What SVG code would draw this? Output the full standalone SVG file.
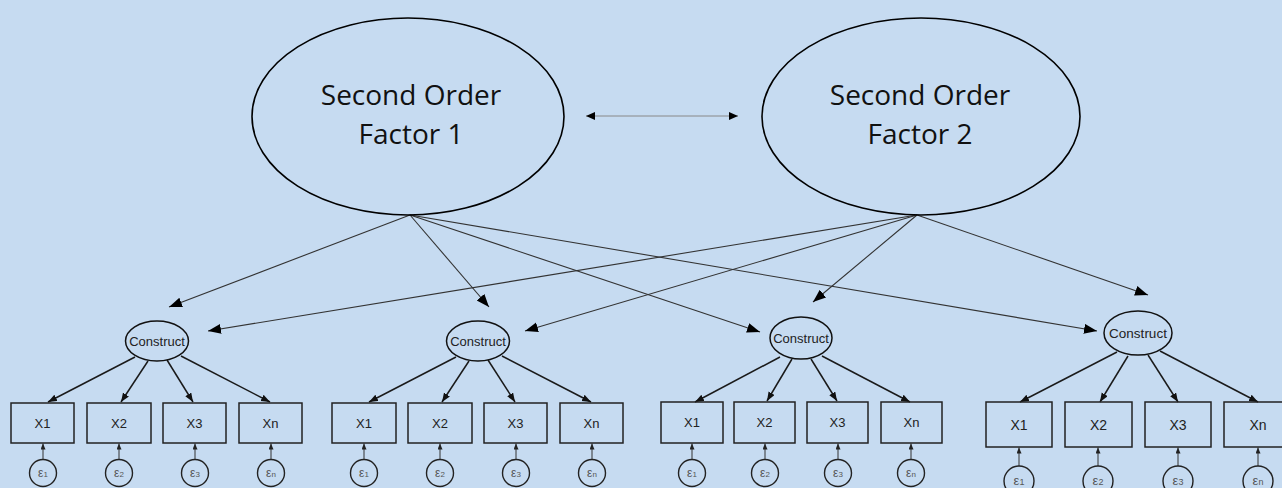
<svg xmlns="http://www.w3.org/2000/svg" width="1282" height="488" viewBox="0 0 1282 488">
  <defs>
    <style>
      .factor { fill: none; stroke: #000; stroke-width: 1.6; }
      .ftext { font-family: "Open Sans", "Liberation Sans", sans-serif; font-size: 28px; fill: #111; text-anchor: middle; }
      .construct { fill: none; stroke: #111; stroke-width: 1.5; }
      .ctext { font-family: "Liberation Sans", Arial, sans-serif; font-size: 13px; fill: #222; text-anchor: middle; }
      .box { fill: none; stroke: #222; stroke-width: 1.5; }
      .btext { font-family: "Liberation Sans", Arial, sans-serif; font-size: 13px; fill: #222; text-anchor: middle; }
      .err { fill: none; stroke: #222; stroke-width: 1.4; }
      .etext { font-family: "Liberation Sans", Arial, sans-serif; font-size: 12px; fill: #555; text-anchor: middle; }
      .path2 { stroke: #333; stroke-width: 1.1; fill: none; }
      .load { stroke: #1a1a1a; stroke-width: 1.5; fill: none; }
      .eline { stroke: #333; stroke-width: 1; fill: none; }
      .corr { stroke: #888; stroke-width: 1; fill: none; }
    </style>
    <marker id="bigHead" markerUnits="userSpaceOnUse" markerWidth="14" markerHeight="12" refX="13" refY="5" orient="auto">
      <path d="M0,0 L13,5 L0,10 Z" fill="#000"/>
    </marker>
    <marker id="midHead" markerUnits="userSpaceOnUse" markerWidth="10" markerHeight="10" refX="9" refY="3.5" orient="auto">
      <path d="M0,0 L9,3.5 L0,7 Z" fill="#111"/>
    </marker>
    <marker id="tinyHead" markerUnits="userSpaceOnUse" markerWidth="7" markerHeight="7" refX="6" refY="2.5" orient="auto">
      <path d="M0,0 L6,2.5 L0,5 Z" fill="#222"/>
    </marker>
    <marker id="corrHead" markerUnits="userSpaceOnUse" markerWidth="10" markerHeight="10" refX="9" refY="4" orient="auto-start-reverse">
      <path d="M0,0 L9,4 L0,8 Z" fill="#000"/>
    </marker>
  </defs>

  <rect x="0" y="0" width="1282" height="488" fill="#c6dbf1"/>

  <!-- connectors -->
  <g id="connectors">
    <!-- factor correlation -->
    <line class="corr" x1="586" y1="116" x2="738" y2="116" marker-start="url(#corrHead)" marker-end="url(#corrHead)"/>
    <!-- Factor 1 paths -->
    <line class="path2" x1="410" y1="215" x2="169" y2="307" marker-end="url(#bigHead)"/>
    <line class="path2" x1="410" y1="215" x2="489" y2="307" marker-end="url(#bigHead)"/>
    <line class="path2" x1="410" y1="215" x2="760" y2="332" marker-end="url(#bigHead)"/>
    <line class="path2" x1="410" y1="215" x2="1097" y2="331" marker-end="url(#bigHead)"/>
    <!-- Factor 2 paths -->
    <line class="path2" x1="917" y1="215" x2="208" y2="331" marker-end="url(#bigHead)"/>
    <line class="path2" x1="917" y1="215" x2="525" y2="331" marker-end="url(#bigHead)"/>
    <line class="path2" x1="917" y1="215" x2="813" y2="302" marker-end="url(#bigHead)"/>
    <line class="path2" x1="917" y1="215" x2="1148" y2="295" marker-end="url(#bigHead)"/>

    <!-- construct 1 loadings -->
    <line class="load" x1="135" y1="357" x2="48" y2="402" marker-end="url(#midHead)"/>
    <line class="load" x1="148" y1="361" x2="121" y2="402" marker-end="url(#midHead)"/>
    <line class="load" x1="167" y1="360" x2="193" y2="402" marker-end="url(#midHead)"/>
    <line class="load" x1="181" y1="356" x2="270" y2="402" marker-end="url(#midHead)"/>
    <!-- construct 2 loadings -->
    <line class="load" x1="456" y1="357" x2="369" y2="402" marker-end="url(#midHead)"/>
    <line class="load" x1="469" y1="361" x2="442" y2="402" marker-end="url(#midHead)"/>
    <line class="load" x1="488" y1="360" x2="515" y2="402" marker-end="url(#midHead)"/>
    <line class="load" x1="502" y1="356" x2="591" y2="402" marker-end="url(#midHead)"/>
    <!-- construct 3 loadings -->
    <line class="load" x1="780" y1="357" x2="695" y2="402" marker-end="url(#midHead)"/>
    <line class="load" x1="792" y1="359" x2="767" y2="401" marker-end="url(#midHead)"/>
    <line class="load" x1="811" y1="359" x2="837" y2="401" marker-end="url(#midHead)"/>
    <line class="load" x1="822" y1="356" x2="910" y2="402" marker-end="url(#midHead)"/>
    <!-- construct 4 loadings -->
    <line class="load" x1="1117" y1="352" x2="1020" y2="402" marker-end="url(#midHead)"/>
    <line class="load" x1="1128" y1="356" x2="1100" y2="402" marker-end="url(#midHead)"/>
    <line class="load" x1="1148" y1="355" x2="1178" y2="402" marker-end="url(#midHead)"/>
    <line class="load" x1="1160" y1="351" x2="1258" y2="402" marker-end="url(#midHead)"/>

    <!-- error terms -->
    <line class="eline" x1="43" y1="459" x2="43" y2="443.5" marker-end="url(#tinyHead)"/>
    <line class="eline" x1="119" y1="459" x2="119" y2="443.5" marker-end="url(#tinyHead)"/>
    <line class="eline" x1="195" y1="459" x2="195" y2="443.5" marker-end="url(#tinyHead)"/>
    <line class="eline" x1="271" y1="459" x2="271" y2="443.5" marker-end="url(#tinyHead)"/>
    <line class="eline" x1="364" y1="459" x2="364" y2="443.5" marker-end="url(#tinyHead)"/>
    <line class="eline" x1="440" y1="459" x2="440" y2="443.5" marker-end="url(#tinyHead)"/>
    <line class="eline" x1="516" y1="459" x2="516" y2="443.5" marker-end="url(#tinyHead)"/>
    <line class="eline" x1="592" y1="459" x2="592" y2="443.5" marker-end="url(#tinyHead)"/>
    <line class="eline" x1="692" y1="459" x2="692" y2="443.5" marker-end="url(#tinyHead)"/>
    <line class="eline" x1="765" y1="459" x2="765" y2="443.5" marker-end="url(#tinyHead)"/>
    <line class="eline" x1="838" y1="459" x2="838" y2="443.5" marker-end="url(#tinyHead)"/>
    <line class="eline" x1="911" y1="459" x2="911" y2="443.5" marker-end="url(#tinyHead)"/>
    <line class="eline" x1="1019" y1="466" x2="1019" y2="447.5" marker-end="url(#tinyHead)"/>
    <line class="eline" x1="1098" y1="466" x2="1098" y2="447.5" marker-end="url(#tinyHead)"/>
    <line class="eline" x1="1178" y1="466" x2="1178" y2="447.5" marker-end="url(#tinyHead)"/>
    <line class="eline" x1="1258" y1="466" x2="1258" y2="447.5" marker-end="url(#tinyHead)"/>
  </g>

  <!-- second order factors -->
  <g id="factor1">
    <ellipse class="factor" cx="408" cy="116.5" rx="156" ry="98.5"/>
    <text class="ftext" x="411" y="105">Second Order</text>
    <text class="ftext" x="411" y="144">Factor 1</text>
  </g>
  <g id="factor2">
    <ellipse class="factor" cx="921" cy="116.5" rx="159" ry="98.5"/>
    <text class="ftext" x="920" y="105">Second Order</text>
    <text class="ftext" x="920" y="144">Factor 2</text>
  </g>

  <!-- constructs -->
  <g id="construct1">
    <ellipse class="construct" cx="157" cy="341" rx="31.5" ry="20"/>
    <text class="ctext" x="157" y="346">Construct</text>
  </g>
  <g id="construct2">
    <ellipse class="construct" cx="478" cy="341" rx="31.5" ry="20"/>
    <text class="ctext" x="478" y="346">Construct</text>
  </g>
  <g id="construct3">
    <ellipse class="construct" cx="801" cy="338" rx="31" ry="21"/>
    <text class="ctext" x="801" y="343">Construct</text>
  </g>
  <g id="construct4">
    <ellipse class="construct" cx="1138" cy="333" rx="34" ry="22"/>
    <text class="ctext" x="1138" y="338" style="font-size:13.5px">Construct</text>
  </g>

  <!-- observed indicators, construct 1 -->
  <g id="c1-x1"><rect class="box" x="11" y="403" width="63" height="40"/><text class="btext" x="42.5" y="428">X1</text></g>
  <g id="c1-x2"><rect class="box" x="87" y="403" width="64" height="40"/><text class="btext" x="119" y="428">X2</text></g>
  <g id="c1-x3"><rect class="box" x="163" y="403" width="63" height="40"/><text class="btext" x="194.5" y="428">X3</text></g>
  <g id="c1-xn"><rect class="box" x="239" y="403" width="63" height="40"/><text class="btext" x="270.5" y="428">Xn</text></g>
  <!-- observed indicators, construct 2 -->
  <g id="c2-x1"><rect class="box" x="332" y="403" width="64" height="40"/><text class="btext" x="364" y="428">X1</text></g>
  <g id="c2-x2"><rect class="box" x="408" y="403" width="64" height="40"/><text class="btext" x="440" y="428">X2</text></g>
  <g id="c2-x3"><rect class="box" x="484" y="403" width="63" height="40"/><text class="btext" x="515.5" y="428">X3</text></g>
  <g id="c2-xn"><rect class="box" x="560" y="403" width="63" height="40"/><text class="btext" x="591.5" y="428">Xn</text></g>
  <!-- observed indicators, construct 3 -->
  <g id="c3-x1"><rect class="box" x="661" y="402" width="62" height="41"/><text class="btext" x="692" y="427">X1</text></g>
  <g id="c3-x2"><rect class="box" x="734" y="402" width="61" height="41"/><text class="btext" x="764.5" y="427">X2</text></g>
  <g id="c3-x3"><rect class="box" x="807" y="402" width="61" height="41"/><text class="btext" x="837.5" y="427">X3</text></g>
  <g id="c3-xn"><rect class="box" x="881" y="402" width="61" height="41"/><text class="btext" x="911.5" y="427">Xn</text></g>
  <!-- observed indicators, construct 4 -->
  <g id="c4-x1"><rect class="box" x="986" y="402" width="66" height="45"/><text class="btext" x="1019" y="430" style="font-size:14px">X1</text></g>
  <g id="c4-x2"><rect class="box" x="1065" y="402" width="67" height="45"/><text class="btext" x="1098.5" y="430" style="font-size:14px">X2</text></g>
  <g id="c4-x3"><rect class="box" x="1145" y="402" width="66" height="45"/><text class="btext" x="1178" y="430" style="font-size:14px">X3</text></g>
  <g id="c4-xn"><rect class="box" x="1224" y="402" width="66" height="45"/><text class="btext" x="1258" y="430" style="font-size:14px">Xn</text></g>

  <!-- error terms -->
  <g id="c1-e1"><circle class="err" cx="43" cy="473" r="13.5"/><text class="etext" x="43" y="477">ε<tspan font-size="8">1</tspan></text></g>
  <g id="c1-e2"><circle class="err" cx="119" cy="473" r="13.5"/><text class="etext" x="119" y="477">ε<tspan font-size="8">2</tspan></text></g>
  <g id="c1-e3"><circle class="err" cx="195" cy="473" r="13.5"/><text class="etext" x="195" y="477">ε<tspan font-size="8">3</tspan></text></g>
  <g id="c1-en"><circle class="err" cx="271" cy="473" r="13.5"/><text class="etext" x="271" y="477">ε<tspan font-size="8">n</tspan></text></g>

  <g id="c2-e1"><circle class="err" cx="364" cy="473" r="13.5"/><text class="etext" x="364" y="477">ε<tspan font-size="8">1</tspan></text></g>
  <g id="c2-e2"><circle class="err" cx="440" cy="473" r="13.5"/><text class="etext" x="440" y="477">ε<tspan font-size="8">2</tspan></text></g>
  <g id="c2-e3"><circle class="err" cx="516" cy="473" r="13.5"/><text class="etext" x="516" y="477">ε<tspan font-size="8">3</tspan></text></g>
  <g id="c2-en"><circle class="err" cx="592" cy="473" r="13.5"/><text class="etext" x="592" y="477">ε<tspan font-size="8">n</tspan></text></g>

  <g id="c3-e1"><circle class="err" cx="692" cy="473" r="13.5"/><text class="etext" x="692" y="477">ε<tspan font-size="8">1</tspan></text></g>
  <g id="c3-e2"><circle class="err" cx="765" cy="473" r="13.5"/><text class="etext" x="765" y="477">ε<tspan font-size="8">2</tspan></text></g>
  <g id="c3-e3"><circle class="err" cx="838" cy="473" r="13.5"/><text class="etext" x="838" y="477">ε<tspan font-size="8">3</tspan></text></g>
  <g id="c3-en"><circle class="err" cx="911" cy="473" r="13.5"/><text class="etext" x="911" y="477">ε<tspan font-size="8">n</tspan></text></g>

  <g id="c4-e1"><circle class="err" cx="1019" cy="481" r="15"/><text class="etext" x="1019" y="485" style="font-size:13px">ε<tspan font-size="9">1</tspan></text></g>
  <g id="c4-e2"><circle class="err" cx="1098" cy="481" r="15"/><text class="etext" x="1098" y="485" style="font-size:13px">ε<tspan font-size="9">2</tspan></text></g>
  <g id="c4-e3"><circle class="err" cx="1178" cy="481" r="15"/><text class="etext" x="1178" y="485" style="font-size:13px">ε<tspan font-size="9">3</tspan></text></g>
  <g id="c4-en"><circle class="err" cx="1258" cy="481" r="15"/><text class="etext" x="1258" y="485" style="font-size:13px">ε<tspan font-size="9">n</tspan></text></g>
</svg>
